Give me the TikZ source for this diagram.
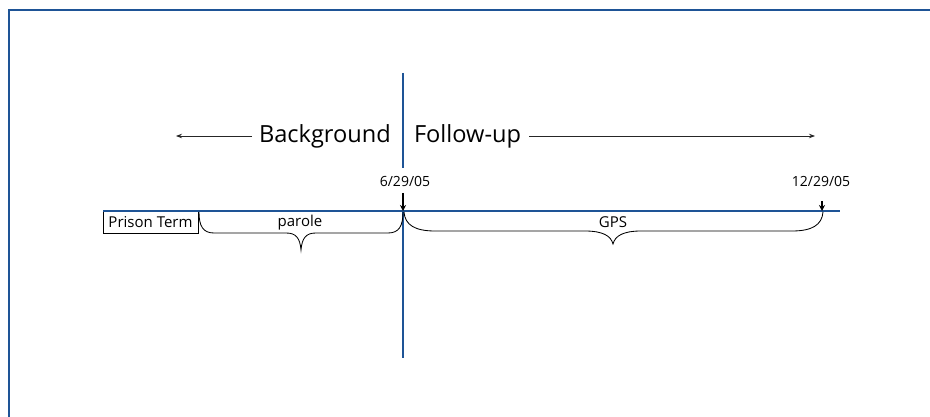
\documentclass[tikz,border=0pt]{standalone}
\usepackage{fontspec}
\setmainfont{Open Sans}
\usetikzlibrary{arrows.meta}
\definecolor{lineblue}{RGB}{30,84,150}
\begin{document}
\begin{tikzpicture}[x=1pt,y=-1pt,
  every node/.style={inner sep=0pt, outer sep=0pt},
  bigtext/.style={font=\fontsize{23.6}{28}\selectfont},
  smalltext/.style={font=\fontsize{15}{18}\selectfont},
  datetext/.style={font=\fontsize{14}{17}\selectfont},
  pointer/.style={-{Stealth[length=6pt,width=6pt]}, line width=1.1pt},
  span/.style={-{Stealth[length=6pt,width=4.5pt]}, line width=0.8pt, black!85},
  bracket/.style={line width=0.85pt},
  blueline/.style={lineblue, line width=1.8pt},
  divider/.style={lineblue, line width=2.4pt}]
\useasboundingbox (0,0) rectangle (930,417);

% outer frame (left and top edges)
\draw[lineblue, line width=1.6pt] (9,417) -- (9,10) -- (930,10);

% headings either side of the divider
\node[bigtext, anchor=base west] (bg) at (259,143) {Background};
\node[bigtext, anchor=base west] (fu) at (414,143) {Follow-up};
\coordinate (bgend) at (176,136);
\coordinate (fuend) at (815,136);
\draw[span] ([xshift=-7pt]bg.west |- bgend) -- (bgend);
\draw[span] ([xshift=8pt]fu.east |- fuend) -- (fuend);

% prison term box
\node[draw, line width=0.6pt, smalltext, anchor=north west,
      minimum width=95pt, minimum height=22pt] (prison) at (103,211) {Prison Term};

% time line
\coordinate (tlend) at (840,211);
\draw[blueline] (prison.north west) -- (tlend);

% divider, interrupted by the date label and its marker
\coordinate (divtop) at (403,73);
\coordinate (divgap) at (403,168);
\coordinate (divmid) at (403,211);
\coordinate (divbot) at (403,358);
\draw[divider] (divtop) -- (divgap);
\draw[divider] (divmid) -- (divbot);

% dates and markers
\node[datetext, anchor=base] (d1) at (405,186) {6/29/05};
\node[datetext, anchor=base] (d2) at (821,186) {12/29/05};
\coordinate (m1s) at (403,193);
\coordinate (m2s) at (822,201);
\coordinate (m2) at (822,211);
\draw[pointer] (m1s) -- (divmid);
\draw[pointer] (m2s) -- (m2);

% braces
\draw[bracket] (199,212) .. controls (199,226) and (203,233) .. (214,233)
  -- (286,233) .. controls (296,233) and (300,238) .. (301,250)
  .. controls (302,238) and (306,233) .. (316,233)
  -- (388,233) .. controls (399,233) and (403,226) .. (403,212);
\draw[bracket] (404,212) .. controls (405,225) and (415,231) .. (435,231)
  -- (585,231) .. controls (603,231) and (611,236) .. (613,244)
  .. controls (615,236) and (623,231) .. (641,231)
  -- (792,231) .. controls (812,231) and (822,225) .. (823,212);
\node[smalltext, anchor=base] (parole) at (300,226) {parole};
\node[smalltext, anchor=base] (gps) at (613,228) {GPS};
\end{tikzpicture}
\end{document}
